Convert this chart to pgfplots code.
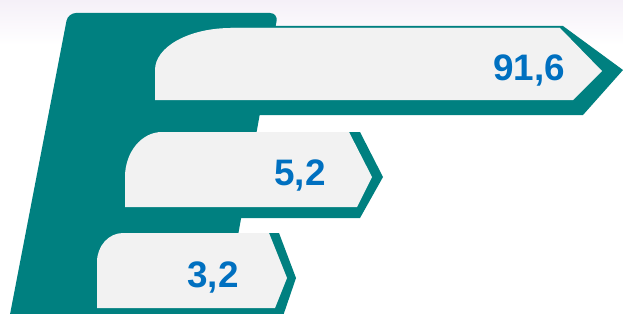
\documentclass[border=0pt]{standalone}
\usepackage{pgfplots}
\pgfplotsset{compat=1.18}
\usepackage{pgfplotstable}
\usepackage{fontspec}
\setmainfont{Liberation Sans}
\definecolor{teal1}{HTML}{008080}
\definecolor{barg}{HTML}{F2F2F2}
\definecolor{lblue}{HTML}{0070C0}
\definecolor{lav}{HTML}{F5F0F8}
\tikzset{ecorner/.code 2 args={\pgfsetcornersarced{\pgfpoint{#1}{#2}}}}
\pgfplotstableread{
x y label
529 80 91,6
300 185 5,2
213 287 3,2
}\labels
\begin{document}
\begin{tikzpicture}
\begin{axis}[width=623bp,height=314bp,scale only axis,
  xmin=0,xmax=623,ymin=0,ymax=314,y dir=reverse,hide axis,clip=true]
% background
\addplot[draw=none,fill=white] coordinates {(0,0)(623,0)(623,314)(0,314)};
\addplot[draw=none,top color=lav,bottom color=white] coordinates {(0,0)(623,0)(623,45)(0,45)};
% back shape
\addplot[draw=none,fill=teal1,rounded corners=8bp] coordinates {(7,330)(68,13)(278,13)(221,330)};
% teal arrow outlines
\addplot[draw=none,fill=teal1] coordinates {(200,26)(563,26)(623,70)(583,115)(200,115)};
\addplot[draw=none,fill=teal1] coordinates {(120,132)(360,132)(383,177)(360,218)(120,218)};
\addplot[draw=none,fill=teal1] coordinates {(90,233)(279,233)(296,278)(282,319)(90,319)};
% gray bars
\addplot[draw=none,fill=barg] coordinates {(155,100)(155,70)(230,28)(560,28)(602,71)(573,100)};
\addplot[draw=none,fill=barg,ecorner={42bp}{76bp}] coordinates {(155,100)(155,28)(560,28)};
\addplot[draw=none,fill=barg] coordinates {(125,207)(125,177)(162,132)(349,132)(372,177)(357,207)};
\addplot[draw=none,fill=barg,ecorner={45bp}{37bp}] coordinates {(125,207)(125,132)(349,132)};
\addplot[draw=none,fill=barg] coordinates {(97,308)(97,262)(123,233)(269,233)(287,278)(275,308)};
\addplot[draw=none,fill=barg,ecorner={29bp}{26bp}] coordinates {(97,308)(97,233)(269,233)};
% labels
\addplot[only marks,mark=none,nodes near coords,point meta=explicit symbolic,
  every node near coord/.style={anchor=base,inner sep=0pt,
  font=\bfseries\fontsize{37}{37}\selectfont,text=lblue}]
  table[x=x,y=y,meta=label]{\labels};
\end{axis}
\end{tikzpicture}
\end{document}
